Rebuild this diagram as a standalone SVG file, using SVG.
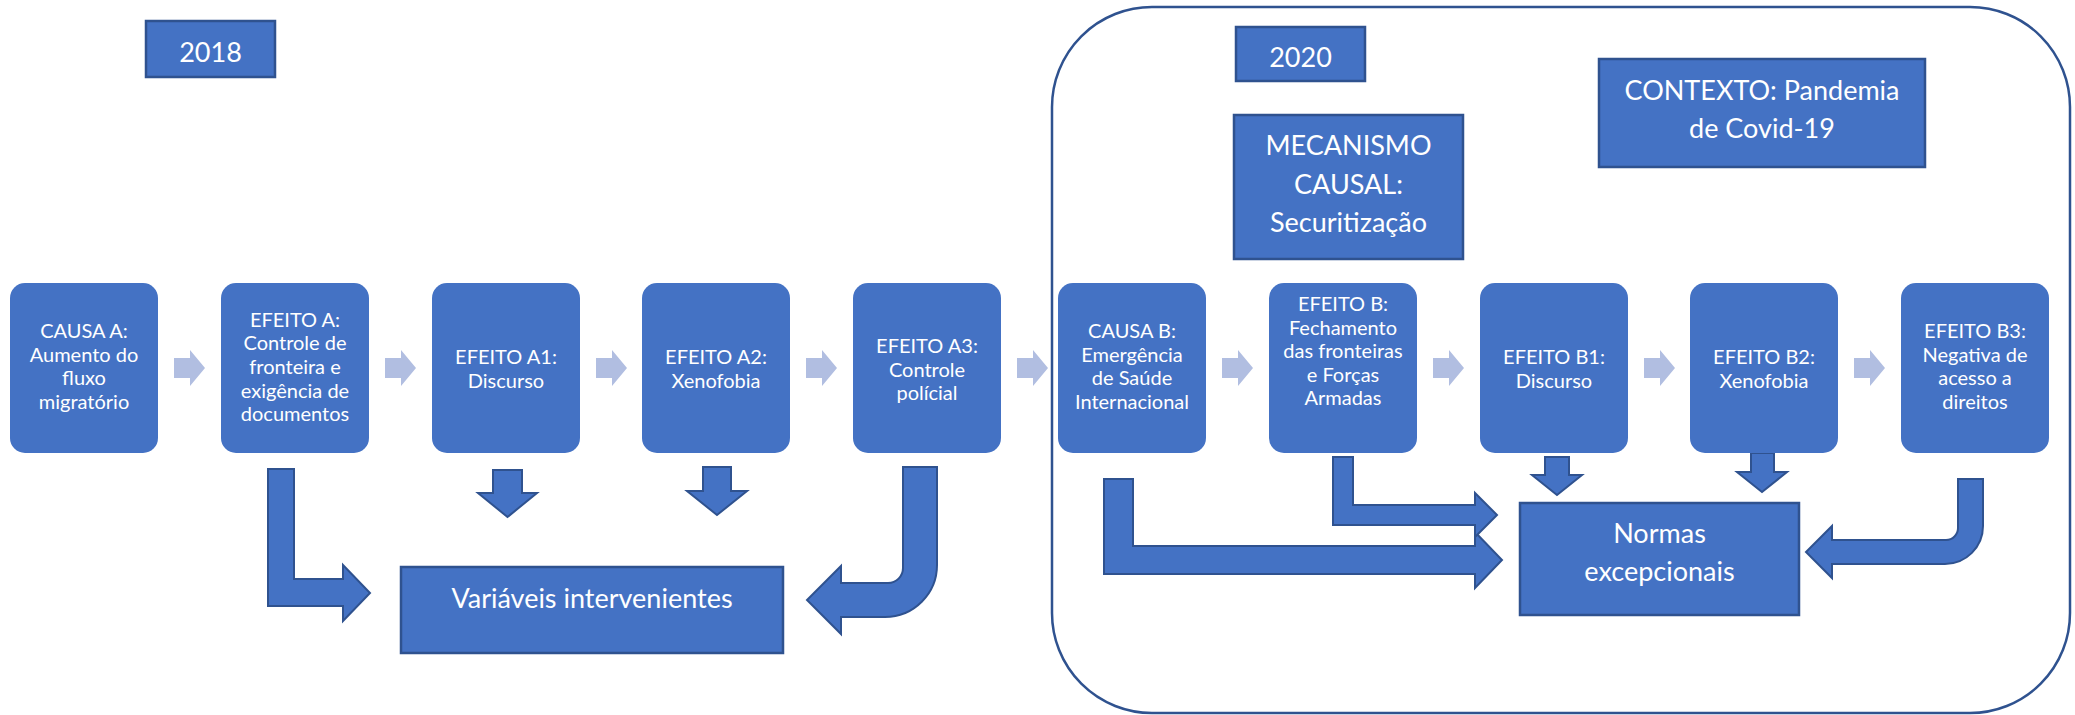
<svg xmlns="http://www.w3.org/2000/svg" width="2075" height="715" viewBox="0 0 2075 715">
  <style>
    .node { fill: #4472C4; }
    .box { fill: #4472C4; stroke: #2F528F; stroke-width: 2.5; }
    .flow { fill: #4472C4; stroke: #2F528F; stroke-width: 2; stroke-linejoin: miter; }
    .chev { fill: #B1BEE1; }
    .frame { fill: #FFFFFF; stroke: #2F528F; stroke-width: 2.5; }
    text { font-family: Lato, "Liberation Sans", sans-serif; fill: #FFFFFF; text-anchor: middle; }
    .t { font-size: 20px; }
    .big { font-size: 27px; }
  </style>
  <defs>
    <path id="chevron" d="M0,-10 L16,-10 L16,-18 L31,0 L16,18 L16,10 L0,10 Z"/>
  </defs>

  <rect width="2075" height="715" fill="#FFFFFF"/>

  <!-- 2020 frame -->
  <rect id="frame-2020" class="frame" x="1052" y="7" width="1018" height="706" rx="100" ry="100"/>

  <!-- headers -->
  <g id="label-2018">
    <rect class="box" x="146" y="21" width="129" height="56"/>
    <text class="big" x="210.5" y="62">2018</text>
  </g>
  <g id="label-2020">
    <rect class="box" x="1236" y="27" width="129" height="54"/>
    <text class="big" x="1300.5" y="67">2020</text>
  </g>
  <g id="mecanismo">
    <rect class="box" x="1234" y="115" width="229" height="144"/>
    <text class="big" x="1348.5" y="155">MECANISMO</text>
    <text class="big" x="1348.5" y="194">CAUSAL:</text>
    <text class="big" x="1348.5" y="232">Securitização</text>
  </g>
  <g id="contexto">
    <rect class="box" x="1599" y="59" width="326" height="108"/>
    <text class="big" x="1762" y="100">CONTEXTO: Pandemia</text>
    <text class="big" x="1762" y="138">de Covid-19</text>
  </g>

  <!-- connectors -->
  <g id="connectors">
    <use href="#chevron" class="chev" x="174" y="368"/>
    <use href="#chevron" class="chev" x="385" y="368"/>
    <use href="#chevron" class="chev" x="596" y="368"/>
    <use href="#chevron" class="chev" x="806" y="368"/>
    <use href="#chevron" class="chev" x="1017" y="368"/>
    <use href="#chevron" class="chev" x="1222" y="368"/>
    <use href="#chevron" class="chev" x="1433" y="368"/>
    <use href="#chevron" class="chev" x="1644" y="368"/>
    <use href="#chevron" class="chev" x="1854" y="368"/>

    <!-- 2018 block arrows -->
    <path class="flow" d="M268,469 L294,469 L294,579 L343,579 L343,565 L370,593 L343,621 L343,606 L268,606 Z"/>
    <path class="flow" d="M493,470 L522,470 L522,493 L537,493 L507.5,517 L478,493 L493,493 Z"/>
    <path class="flow" d="M703,467 L731,467 L731,491 L747,491 L717,515 L687,491 L703,491 Z"/>
    <path class="flow" d="M903,467 L937,467 L937,565 A52,52 0 0 1 885,617 L841,617 L841,634 L807,600 L841,566 L841,583 L888,583 A15,15 0 0 0 903,568 Z"/>

    <!-- 2020 block arrows -->
    <path class="flow" d="M1104,479 L1133,479 L1133,546 L1475,546 L1475,532 L1502,560 L1475,588 L1475,574 L1104,574 Z"/>
    <path class="flow" d="M1333,457 L1353,457 L1353,505 L1475,505 L1475,493 L1497,515 L1475,537 L1475,525 L1333,525 Z"/>
    <path class="flow" d="M1545,457 L1569,457 L1569,475 L1582,475 L1557,495 L1532,475 L1545,475 Z"/>
    <path class="flow" d="M1751,453 L1774,453 L1774,472 L1787,472 L1762,492 L1737,472 L1751,472 Z"/>
    <path class="flow" d="M1958,479 L1983,479 L1983,526 A38,38 0 0 1 1945,564 L1832,564 L1832,578 L1806,552 L1832,526 L1832,540 L1946,540 A12,12 0 0 0 1958,528 Z"/>
  </g>

  <!-- 2018 chain -->
  <g id="causa-a">
    <rect class="node" x="10" y="283" width="148" height="170" rx="15"/>
    <text class="t" x="84" y="338">CAUSA A:</text>
    <text class="t" x="84" y="362">Aumento do</text>
    <text class="t" x="84" y="385">fluxo</text>
    <text class="t" x="84" y="409">migratório</text>
  </g>
  <g id="efeito-a">
    <rect class="node" x="221" y="283" width="148" height="170" rx="15"/>
    <text class="t" x="295" y="327">EFEITO A:</text>
    <text class="t" x="295" y="350">Controle de</text>
    <text class="t" x="295" y="374">fronteira e</text>
    <text class="t" x="295" y="398">exigência de</text>
    <text class="t" x="295" y="421">documentos</text>
  </g>
  <g id="efeito-a1">
    <rect class="node" x="432" y="283" width="148" height="170" rx="15"/>
    <text class="t" x="506" y="364">EFEITO A1:</text>
    <text class="t" x="506" y="388">Discurso</text>
  </g>
  <g id="efeito-a2">
    <rect class="node" x="642" y="283" width="148" height="170" rx="15"/>
    <text class="t" x="716" y="364">EFEITO A2:</text>
    <text class="t" x="716" y="388">Xenofobia</text>
  </g>
  <g id="efeito-a3">
    <rect class="node" x="853" y="283" width="148" height="170" rx="15"/>
    <text class="t" x="927" y="353">EFEITO A3:</text>
    <text class="t" x="927" y="377">Controle</text>
    <text class="t" x="927" y="400">polícial</text>
  </g>
  <g id="variaveis">
    <rect class="box" x="401" y="567" width="382" height="86"/>
    <text class="big" x="592" y="608">Variáveis intervenientes</text>
  </g>

  <!-- 2020 chain -->
  <g id="causa-b">
    <rect class="node" x="1058" y="283" width="148" height="170" rx="15"/>
    <text class="t" x="1132" y="338">CAUSA B:</text>
    <text class="t" x="1132" y="362">Emergência</text>
    <text class="t" x="1132" y="385">de Saúde</text>
    <text class="t" x="1132" y="409">Internacional</text>
  </g>
  <g id="efeito-b">
    <rect class="node" x="1269" y="283" width="148" height="170" rx="15"/>
    <text class="t" x="1343" y="311">EFEITO B:</text>
    <text class="t" x="1343" y="335">Fechamento</text>
    <text class="t" x="1343" y="358">das fronteiras</text>
    <text class="t" x="1343" y="382">e Forças</text>
    <text class="t" x="1343" y="405">Armadas</text>
  </g>
  <g id="efeito-b1">
    <rect class="node" x="1480" y="283" width="148" height="170" rx="15"/>
    <text class="t" x="1554" y="364">EFEITO B1:</text>
    <text class="t" x="1554" y="388">Discurso</text>
  </g>
  <g id="efeito-b2">
    <rect class="node" x="1690" y="283" width="148" height="170" rx="15"/>
    <text class="t" x="1764" y="364">EFEITO B2:</text>
    <text class="t" x="1764" y="388">Xenofobia</text>
  </g>
  <g id="efeito-b3">
    <rect class="node" x="1901" y="283" width="148" height="170" rx="15"/>
    <text class="t" x="1975" y="338">EFEITO B3:</text>
    <text class="t" x="1975" y="362">Negativa de</text>
    <text class="t" x="1975" y="385">acesso a</text>
    <text class="t" x="1975" y="409">direitos</text>
  </g>
  <g id="normas">
    <rect class="box" x="1520" y="503" width="279" height="112"/>
    <text class="big" x="1659.5" y="543">Normas</text>
    <text class="big" x="1659.5" y="581">excepcionais</text>
  </g>
</svg>
